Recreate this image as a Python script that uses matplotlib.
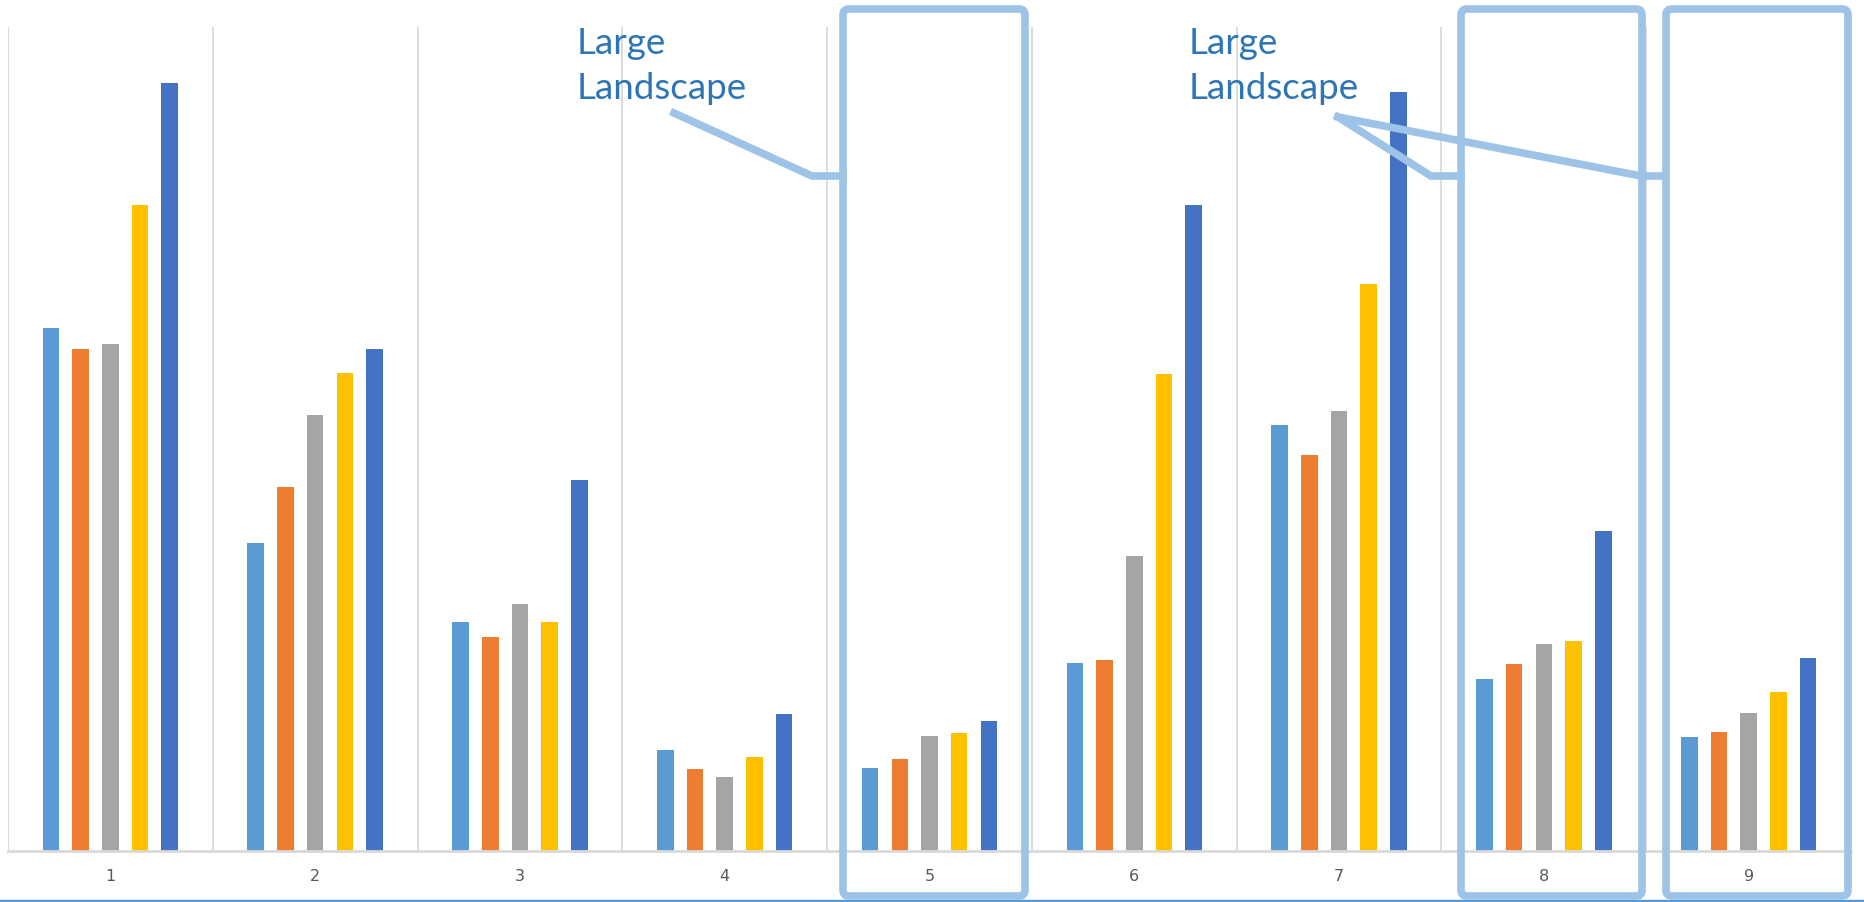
import matplotlib
matplotlib.use("Agg")
import matplotlib.pyplot as plt
import numpy as np
from matplotlib.patches import FancyBboxPatch
from matplotlib.lines import Line2D
from matplotlib.transforms import Affine2D

categories = ["1", "2", "3", "4", "5", "6", "7", "8", "9"]
s1 = [440, 259, 193, 85, 70, 158, 358, 145, 96]
s2 = [422, 306, 180, 69, 77, 161, 333, 157, 100]
s3 = [426, 367, 208, 62, 97, 248, 370, 174, 116]
s4 = [543, 402, 193, 79, 99, 401, 477, 177, 134]
s5 = [646, 422, 312, 115, 109, 543, 638, 269, 162]
series = [s1, s2, s3, s4, s5]
colors = ["#5B9BD5", "#ED7D31", "#A5A5A5", "#FFC000", "#4472C4"]
callout_text = "Large\nLandscape"

W, H = 1865, 902
fig = plt.figure(figsize=(W / 100, H / 100), dpi=100)
ax = fig.add_axes([8 / W, 51 / H, (1851 - 8) / W, (851 - 27) / H])

x = np.arange(len(categories))
bw = 0.081
step = 0.145
for i, (vals, c) in enumerate(zip(series, colors)):
    ax.bar(x + (i - 2) * step, vals, width=bw, color=c, zorder=2)

ax.set_xlim(-0.5, len(categories) - 0.5)
ax.set_ylim(0, 693)
ax.set_yticks([])
ax.set_xticks(x)
ax.set_xticklabels(categories, fontsize=11.5, color="#595959")
ax.tick_params(axis="x", length=0, pad=13)
for sp in ["top", "right", "left"]:
    ax.spines[sp].set_visible(False)
ax.spines["bottom"].set_color("#D9D9D9")
ax.spines["bottom"].set_linewidth(2)
for b in np.arange(-0.5, len(categories), 1.0):
    ax.axvline(b, color="#D9D9D9", lw=1.3, zorder=1)

# pixel transform (y measured from top)
pix = Affine2D().scale(1 / W, -1 / H).translate(0, 1) + fig.transFigure

# bottom blue line
fig.add_artist(Line2D([0, W], [900.5, 900.5], transform=pix, color="#5B9BD5", lw=2.5))

box_col = "#9DC3E6"
boxes = [(843, 1025), (1461, 1642), (1666, 1848)]
for l, r in boxes:
    p = FancyBboxPatch((l, 9), r - l, 887, boxstyle="round,pad=0,rounding_size=6",
                       transform=pix, fill=False, ec=box_col, lw=5.5, zorder=5,
                       clip_on=False)
    fig.add_artist(p)

lines = [
    [(674, 113), (812, 176), (843, 176)],
    [(1338, 117), (1431, 176), (1461, 176)],
    [(1338, 117), (1641, 176), (1666, 176)],
]
for pts in lines:
    xs, ys = zip(*pts)
    fig.add_artist(Line2D(xs, ys, transform=pix, color=box_col, lw=5.5,
                          solid_joinstyle="miter", zorder=5))

for tx in [577, 1189]:
    fig.text(tx / W, 1 - 27 / H, callout_text, transform=fig.transFigure,
             fontsize=26.5, color="#2E75B6", family="Lato", va="top", ha="left",
             linespacing=1.45)

fig.savefig("out.png", dpi=100, facecolor="white")
